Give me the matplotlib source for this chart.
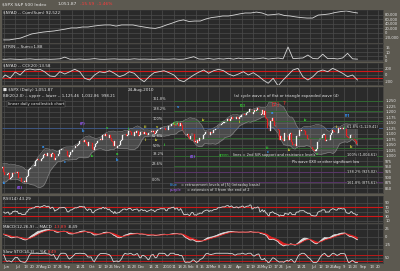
import numpy as np
import pandas as pd
import matplotlib
matplotlib.use("Agg")
import matplotlib.pyplot as plt

# S&P 500 daily closes, 4-May-2009 .. 25-Aug-2010 (first 30 days = warm-up for indicators)
closes = [
    907, 903, 919, 907, 929,  909, 908, 883, 893, 882,  909, 908, 903, 888, 887,
    887, 911, 893, 906, 919,  942, 944, 931, 942, 940,  939, 942, 940, 944, 946,
    923, 911, 910, 918, 921,  893, 896, 900, 920, 918,  927, 919, 923, 896, 896,
    898, 881, 879, 882, 879,  901, 905, 932, 940, 940,  951, 954, 954, 976, 979,
    982, 979, 975, 986, 987,  1002, 1005, 1002, 997, 1010,  1007, 994, 1005, 1013, 1005,
    980, 990, 996, 1007, 1026,  1026, 1028, 1029, 1031, 1029,  1021, 998, 995, 1004, 1016,
    1016, 1025, 1033, 1044, 1042,  1049, 1053, 1068, 1066, 1068,  1064, 1072, 1061, 1051, 1044,
    1062, 1060, 1057, 1030, 1025,  1040, 1054, 1057, 1066, 1071,  1076, 1073, 1092, 1096, 1087,
    1098, 1091, 1081, 1092, 1079,  1066, 1063, 1042, 1066, 1036,  1042, 1045, 1046, 1066, 1069,
    1093, 1093, 1098, 1087, 1093,  1110, 1110, 1109, 1096, 1091,  1106, 1105, 1110, 1110, 1091,
    1096, 1109, 1109, 1099, 1106,  1104, 1092, 1096, 1102, 1106,  1114, 1108, 1110, 1097, 1102,
    1114, 1118, 1120, 1126, 1126,  1127, 1126, 1126, 1115, 1115,
    1133, 1136, 1137, 1142, 1145,  1147, 1136, 1146, 1148, 1136,  1136, 1150, 1138, 1116, 1092,
    1096, 1092, 1097, 1084, 1074,  1090, 1103, 1098, 1063, 1066,  1056, 1070, 1068, 1078, 1075,
    1075, 1094, 1099, 1106, 1109,  1108, 1095, 1106, 1102, 1105,  1115, 1118, 1119, 1123, 1139,
    1139, 1141, 1146, 1150, 1150,  1150, 1160, 1166, 1166, 1160,  1166, 1174, 1168, 1165, 1167,
    1174, 1173, 1169, 1178, 1178,  1187, 1189, 1183, 1187, 1194,  1197, 1197, 1211, 1211, 1192,
    1197, 1207, 1205, 1208, 1217,  1213, 1183, 1191, 1206, 1187,  1203, 1173, 1166, 1128, 1111,
    1160, 1159, 1172, 1158, 1136,  1136, 1120, 1115, 1071, 1088,  1074, 1074, 1068, 1103, 1089,
    1089, 1070, 1098, 1102, 1064,  1050, 1055, 1043, 1087, 1091,  1090, 1115, 1114, 1116, 1117,
    1113, 1095, 1092, 1074, 1076,  1074, 1041, 1031, 1027, 1022,  1022, 1028, 1060, 1070, 1078,
    1078, 1095, 1095, 1096, 1065,  1071, 1069, 1070, 1094, 1102,  1115, 1113, 1106, 1101, 1101,
    1125, 1120, 1127, 1125, 1122,  1128, 1122, 1089, 1083, 1079,  1079, 1094, 1095, 1076, 1071,
    1067, 1051, 1055,
]

# top panel: cumulative breadth line (weekly readings)
breadth = [-30, -30, -26, -22, -13, -4, 0, 4, 6.5, 9, 13, 17, 22, 22, 26, 26,
           30, 33, 35, 35, 30, 35, 35, 35, 30, 26, 22, 20, 26, 35, 43, 52,
           57, 50, 52, 52, 61, 67, 70, 74, 74, 78, 83, 87, 87, 91, 87, 78,
           80, 83, 76, 74, 70, 67, 65, 65, 78, 80, 83, 89, 93, 96, 91, 87]

# second panel: spiky ratio line
ratio = [1.6, 1.4, 1.8, 1.5, 1.3, 1.6, 1.9, 1.4, 1.5, 1.7, 1.4, 1.6, 2.0, 4.0, 1.6,
         1.5, 1.8, 1.4, 1.6, 2.2, 1.5, 1.4, 1.7, 1.9, 1.5, 1.6, 1.4, 2.0, 1.5, 1.7,
         1.5, 1.4, 1.8, 1.6, 1.5, 1.9, 1.4, 1.6, 3.0, 4.5, 1.8, 1.6, 2.4, 1.5, 2.2,
         1.7, 2.6, 1.6, 2.8, 1.9, 2.5, 1.8, 2.2, 3.0, 1.7, 2.4, 2.9, 2.0, 16.0, 2.2,
         2.6, 3.0, 6.5, 2.4, 2.0, 7.5, 2.2, 2.5, 1.8, 3.0, 8.5, 2.0, 1.6]

# third panel: CCI readings
cci = [-170, -15, -110, 77, -15, 140, 170, 140, 160, 77, -45, -68, 86, 15, 86,
       160, 86, -117, -170, -15, 86, 55, 117, 37, -68, -15, 86, 37, -117, -222,
       -68, 55, 86, 117, 55, -15, -170, -222, -117, -15, 70, 140, 37, 117, 160,
       117, 15, -45, 15, 86, -15, 55, -45, -170, -270, -117, -350, -170, -15, 140,
       190, -68, -170, -68, 86, 140, 86, 190, 117, 37, -68, -15, -170]

# wave labels on the price chart: (day index, price, text, colour)
waves = [
    (31, 874, "iv", "#3399ff"), (44, 852, "(X)", "#9955ff"), (65, 1039, "a", "#3399ff"),
    (84, 970, "c", "#3399ff"), (100, 1144, "(Y)", "#9955ff"), (100, 1112, "b", "#3399ff"),
    (108, 998, "iv", "#33cc33"), (121, 1126, "v", "#33cc33"), (130, 980, "b", "#3399ff"),
    (130, 1007, "a", "#33cc33"), (140, 1121, "i", "#33cc33"), (155, 1130, "iii", "#cccc33"),
    (165, 1130, "v", "#cccc33"), (155, 1071, "ii", "#cccc33"), (165, 1071, "iv", "#cccc33"),
    (172, 1046, "ii", "#33cc33"), (182, 1144, "[1]", "#33cc33"), (184, 1222, "v", "#3399ff"),
    (197, 993, "(X)", "#9955ff"), (206, 1162, "iv", "#cccc33"), (238, 1153, "ii", "#cccc33"),
    (241, 1226, "[1]", "#33cc33"), (263, 1034, "iii", "#33cc33"), (263, 1016, "c", "#3399ff"),
    (267, 1194, "a", "#3399ff"), (282, 1025, "iv", "#cccc33"), (296, 1162, "iv", "#33cc33"),
    (306, 1007, "v", "#33cc33"), (324, 1130, "ii", "#cccc33"), (330, 1126, "i", "#33cc33"),
    (333, 1180, "[?]", "#3399ff"), (336, 1040, "b", "#cccc33"),
]

# horizontal levels on the price chart: (price, colour, start day)
levels = [(1249, "#2f6e2f", 180), (1203, "#2f6e2f", 180), (1157, "#2f6e2f", 180),
          (1128, "#3d5a8c", 28), (1080, "#2f6e2f", 180), (1034, "#2f6e2f", 180),
          (998, "#2f6e2f", 180), (952, "#2f6e2f", 180), (925, "#5e3470", 180),
          (879, "#5e3470", 180)]
level_names = ["161.8%", "138.2%", "100%", "", "61.8%", "50%", "38.2%", "23.6%", "", "0.0%"]
fib_right = [(1130, "61.8% (1,129.41)"), (1002, "100% (1,004.61)"),
             (925, "138.2% (925.02)"), (876, "161.8% (875.61)")]

BG = "#5c5950"
PANEL = "#2a2a2a"
GRID = "#4c4c4c"
TXT = "#e6e6e6"

dates = pd.bdate_range("2009-05-04", "2010-09-24")
n = len(closes)
start, end = 30, n - 1
x0, x1 = 28.5, len(dates) - 0.5
close = pd.Series(closes, dtype=float)

# indicators
mid = close.rolling(20).mean()
sd = close.rolling(20).std(ddof=0)
bb_up, bb_lo = mid + 2 * sd, mid - 2 * sd
d = close.diff()
up = d.clip(lower=0).ewm(alpha=1 / 14, adjust=False).mean()
dn = (-d.clip(upper=0)).ewm(alpha=1 / 14, adjust=False).mean()
rsi = 100 - 100 / (1 + up / dn)
macd = close.ewm(span=12, adjust=False).mean() - close.ewm(span=26, adjust=False).mean()
signal = macd.ewm(span=9, adjust=False).mean()
lo14, hi14 = close.rolling(14).min(), close.rolling(14).max()
stoch = (100 * (close - lo14) / (hi14 - lo14)).rolling(3).mean()
days = np.arange(n)

# tick labels: month name at first day of month, day number at each week start
idx = pd.Series(np.arange(len(dates)), index=dates)
month_pos = [g.iloc[0] for _, g in idx.groupby(dates.to_period("M"))]
month_lab = ["2010" if dates[p].month == 1 else dates[p].strftime("%b") for p in month_pos]
month_pos[1] = 32   # first visible June day
week_pos = [g.iloc[0] for _, g in idx.groupby(dates.to_period("W"))]
tick_pos, tick_lab = [], []
for p in week_pos:
    if min(abs(p - m) for m in month_pos) > 4:
        tick_pos.append(p)
        tick_lab.append(str(dates[p].day))
tick_pos += month_pos
tick_lab += month_lab
order = np.argsort(tick_pos)
tick_pos = np.array(tick_pos)[order]
tick_lab = np.array(tick_lab)[order]
keep = tick_pos >= 30
tick_pos, tick_lab = tick_pos[keep], tick_lab[keep]
wk = np.array(week_pos)
vgrid = wk[wk >= x0][::2]

fig = plt.figure(figsize=(4.0, 2.71), dpi=100)
fig.patch.set_facecolor(BG)


def panel(top, bottom, yticks, ylabels, ylim):
    ax = fig.add_axes([2 / 400, 1 - bottom / 271, 381 / 400, (bottom - top) / 271])
    ax.set_facecolor(PANEL)
    ax.set_xlim(x0, x1)
    ax.set_ylim(*ylim)
    for v in vgrid:
        ax.axvline(v, color=GRID, lw=0.5, zorder=0)
    for v in yticks:
        ax.axhline(v, color=GRID, lw=0.5, zorder=0)
    ax.yaxis.tick_right()
    ax.set_yticks(yticks)
    ax.set_yticklabels(ylabels)
    ax.tick_params(axis="y", length=0, pad=1.5, labelsize=2.7, labelcolor=TXT)
    ax.set_xticks([])
    for s in ax.spines.values():
        s.set_color("#3a3a3a")
        s.set_linewidth(0.4)
    return ax


def header(ax, parts, y=0.97):
    t = ax.transAxes
    xx = 0.003
    r = fig.canvas.get_renderer()
    for s, c in parts:
        txt = ax.text(xx, y, s, transform=t, fontsize=3.0, color=c, va="top", ha="left")
        bb = txt.get_window_extent(renderer=r)
        xx += bb.width / ax.get_window_extent(renderer=r).width + 0.004


fig.text(0.005, 0.992, "$SPX S&P 500 Index", fontsize=3.2, color=TXT, va="top")
fig.text(0.145, 0.992, "1,051.87", fontsize=3.2, color=TXT, va="top")
fig.text(0.2, 0.992, "-15.59  -1.46%", fontsize=3.2, color="#ff3b3b", va="top")

# panel 1
ax1 = panel(10, 43, [80, 60, 40, 20, 0, -20],
            ["80,000", "60,000", "40,000", "20,000", "0", "-20,000"], (-43.5, 100))
ax1.plot(np.linspace(start, end, len(breadth)), breadth, color="#d8d8d8", lw=0.6)
header(ax1, [("$NYAD -- Cum(Sum) 92,522", TXT)])

# panel 2
ax2 = panel(44, 61, [15, 10, 5, 0], ["15", "10", "5", "0"], (-0.6, 19.6))
ax2.plot(np.linspace(start - 3, end, len(ratio)), ratio, color="#d8d8d8", lw=0.6)
header(ax2, [("$TRIN -- Sum=1.88", TXT)])

# panel 3
ax3 = panel(63, 85, [200, 0, -200], ["200", "0", "-200"], (-323, 354))
for v in (100, -100):
    ax3.axhline(v, color="#d01818", lw=0.8)
ax3.plot(np.linspace(start - 3, end, len(cci)), cci, color="#d8d8d8", lw=0.6)
header(ax3, [("$NYAD -- CCI(20) 13.58", TXT)])

# main price panel
pticks = list(range(850, 1251, 25))
axm = panel(87, 193, pticks, [f"{v:,}" for v in pticks], (829, 1313))
sl = slice(start - 20, n)
axm.fill_between(days[sl], bb_lo[sl], bb_up[sl], color="#9a9a9a", alpha=0.3, lw=0)
axm.plot(days[sl], bb_up[sl], color="#8a8a8a", lw=0.4)
axm.plot(days[sl], bb_lo[sl], color="#8a8a8a", lw=0.4)
for (p, c, s0), name in zip(levels, level_names):
    axm.plot([s0, x1], [p, p], color=c, lw=0.6, zorder=1)
    if name:
        axm.text(161, p + 2, name, fontsize=2.5, color=TXT, va="bottom")
for p, s in fib_right:
    axm.text(333, p, s, fontsize=2.5, color=TXT, va="center",
             bbox=dict(boxstyle="square,pad=0.1", fc=PANEL, ec="none"))
opens = close.shift(1)
for i in range(start - 2, n):
    o, c = opens[i], close[i]
    col = "#f4f4f4" if c >= o else "#e32222"
    axm.bar(i, max(abs(c - o), 1.2), bottom=min(o, c), width=0.75, color=col,
            edgecolor=col, lw=0.2, zorder=3)
for i, p, s, c in waves:
    axm.text(i, p, s, fontsize=2.5, color=c, ha="center", va="center", zorder=4,
             fontweight="bold")
axm.text(270, 1236, "[2]", fontsize=4.0, color="#ff3030", ha="center", va="center", zorder=4)
axm.text(276, 1236, "?", fontsize=4.0, color="#ff3030", ha="left", va="center", zorder=4)
axm.text(0.003, 0.995, "\u25a0 $SPX (Daily) 1,051.87", transform=axm.transAxes,
         fontsize=3.0, color=TXT, va="top")
axm.text(0.33, 0.995, "24-Aug-2010", transform=axm.transAxes, fontsize=3.0, color=TXT, va="top")
axm.text(0.003, 0.93, "BB(20,2.0) -- upper -- lower -- 1,125.46  1,032.86  998.21",
         transform=axm.transAxes, fontsize=2.8, color=TXT, va="top")
axm.text(0.015, 0.86, "linear daily candlestick chart", transform=axm.transAxes,
         fontsize=2.8, color=TXT, va="top",
         bbox=dict(boxstyle="square,pad=0.2", fc="#1e1e1e", ec="#777777", lw=0.3))
axm.text(0.61, 0.935, "(a) cycle wave a of flat or triangle expanded wave (4)",
         transform=axm.transAxes, fontsize=2.8, color=TXT, va="top")
axm.text(0.57, 0.35, "green", transform=axm.transAxes, fontsize=2.6, color="#33cc33")
axm.text(0.605, 0.35, "lines = 2nd S/R support and resistance levels",
         transform=axm.transAxes, fontsize=2.6, color=TXT)
axm.text(0.76, 0.28, "Pls wave 0XX or other significant low", transform=axm.transAxes,
         fontsize=2.6, color=TXT)
axm.text(0.44, 0.07, "blue", transform=axm.transAxes, fontsize=2.6, color="#3399ff")
axm.text(0.47, 0.07, "= retracement levels of [5] (intraday basis)",
         transform=axm.transAxes, fontsize=2.6, color=TXT)
axm.text(0.44, 0.015, "purple", transform=axm.transAxes, fontsize=2.6, color="#b060ff")
axm.text(0.485, 0.015, "= extension of 3 from the end of 2",
         transform=axm.transAxes, fontsize=2.6, color=TXT)

# RSI
axr = panel(196, 223, [90, 70, 50, 30, 10], ["90", "70", "50", "30", "10"], (-1, 119))
for v in (70, 30):
    axr.axhline(v, color="#d01818", lw=0.8)
axr.plot(days[start:], rsi[start:], color="#d8d8d8", lw=0.6)
header(axr, [("RSI(14) 43.29", TXT)])

# MACD
axd = panel(224, 249, [25, 0, -25], ["25", "0", "-25"], (-37.5, 40.6))
hist = (macd - signal)
axd.fill_between(days[start:], signal[start:], macd[start:], where=hist[start:] >= 0,
                 color="#d8d8d8", lw=0, interpolate=True)
axd.fill_between(days[start:], signal[start:], macd[start:], where=hist[start:] < 0,
                 color="#e02020", lw=0, interpolate=True)
axd.plot(days[start:], macd[start:], color="#e0e0e0", lw=0.6)
axd.plot(days[start:], signal[start:], color="#e02020", lw=0.6)
header(axd, [("MACD(12,26,9) -- MACD", TXT), ("-13.89", "#ff4040"), ("-8.49", TXT)])

# Stochastic
axs = panel(250, 263, [50], ["50"], (-5, 135))
for v in (80, 20):
    axs.axhline(v, color="#d01818", lw=0.6)
axs.plot(days[start:], stoch[start:], color="#d8d8d8", lw=0.6)
header(axs, [("Slow STO(14,3) -- %K", TXT), ("8.49", "#ff4040")])
axs.set_xticks(tick_pos)
axs.set_xticklabels(tick_lab)
axs.tick_params(axis="x", length=0, pad=1.5, labelsize=2.7, labelcolor=TXT)

fig.savefig("out.png", dpi=100, facecolor=BG)
